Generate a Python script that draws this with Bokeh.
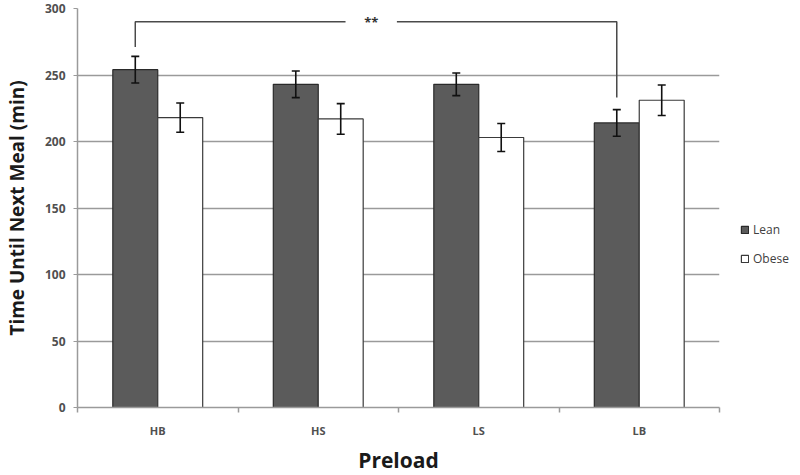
from bokeh.plotting import figure
from bokeh.models import (ColumnDataSource, FixedTicker, Whisker, TeeHead, Legend, LegendItem)
from bokeh.core.properties import value
from bokeh.embed import file_html
from bokeh.resources import INLINE
import numpy as np

categories = ["HB", "HS", "LS", "LB"]
lean = [254, 243, 243, 214]
lean_err = [10, 10, 8.5, 10]
obese = [218, 217, 203, 231]
obese_err = [11, 11.5, 10.5, 11.5]
y_ticks = [0, 50, 100, 150, 200, 250, 300]
series_names = ["Lean", "Obese"]

# significance bracket (HB lean vs LB lean)
sig_label = "**"
sig_y = 290
sig_left_end = 271
sig_right_end = 233
sig_gap = (1.67, 1.99)
sig_text_x = 1.83

FONT = "Open Sans"
bar_w = 0.28
centers = np.arange(len(categories)) + 0.5

p = figure(frame_width=642, frame_height=399, x_range=(0, len(categories)), y_range=(0, 300),
           output_backend="svg", toolbar_location=None,
           min_border_left=69, min_border_top=8, min_border_bottom=54, min_border_right=72,
           outline_line_color=None, background_fill_color="white", border_fill_color="white")

lean_src = ColumnDataSource(dict(x=centers - bar_w / 2, top=lean,
                                 upper=np.array(lean) + np.array(lean_err),
                                 lower=np.array(lean) - np.array(lean_err)))
obese_src = ColumnDataSource(dict(x=centers + bar_w / 2, top=obese,
                                  upper=np.array(obese) + np.array(obese_err),
                                  lower=np.array(obese) - np.array(obese_err)))

r_lean = p.vbar(x="x", top="top", width=bar_w, bottom=0, source=lean_src,
                fill_color="#5b5b5b", line_color="#2a2a2a", line_width=1.2)
r_obese = p.vbar(x="x", top="top", width=bar_w, bottom=0, source=obese_src,
                 fill_color="white", line_color="#3a3a3a", line_width=1.2)

for src in (lean_src, obese_src):
    w = Whisker(source=src, base="x", upper="upper", lower="lower", level="overlay",
                line_color="#111111", line_width=1.6,
                upper_head=TeeHead(size=8, line_color="#111111", line_width=1.6),
                lower_head=TeeHead(size=8, line_color="#111111", line_width=1.6))
    p.add_layout(w)

# bracket
xl = centers[0] - bar_w / 2
xr = centers[3] - bar_w / 2
p.multi_line(xs=[[xl, xl, sig_gap[0]], [sig_gap[1], xr, xr]],
             ys=[[sig_left_end, sig_y, sig_y], [sig_y, sig_y, sig_right_end]],
             line_color="#4a4a4a", line_width=1.5)
p.text(x=[sig_text_x], y=[sig_y], text=[sig_label], text_align="center", text_baseline="middle",
       text_font=value(FONT), text_font_size="13px", text_font_style="bold", text_color="#333333")

# axes
p.yaxis.ticker = FixedTicker(ticks=y_ticks)
p.ygrid.ticker = FixedTicker(ticks=y_ticks)
p.xgrid.visible = False
p.ygrid.grid_line_color = "#9a9a9a"
p.ygrid.grid_line_width = 1.3

p.xaxis.ticker = FixedTicker(ticks=list(centers), minor_ticks=list(range(len(categories) + 1)))
p.xaxis.major_label_overrides = {float(c): lab for c, lab in zip(centers, categories)}

for ax in (p.xaxis[0], p.yaxis[0]):
    ax.axis_line_color = "#9a9a9a"
    ax.axis_line_width = 1.5
    ax.major_label_text_font = FONT
    ax.major_label_text_color = "#505050"
    ax.axis_label_text_font = FONT
    ax.axis_label_text_font_style = "bold"
    ax.axis_label_text_color = "#1a1a1a"

p.yaxis.major_tick_line_color = "#9a9a9a"
p.yaxis.major_tick_out = 4
p.yaxis.major_tick_in = 0
p.yaxis.minor_tick_line_color = None
p.yaxis.major_label_text_font_size = "12px"
p.yaxis.major_label_text_font_style = "bold"
p.yaxis.major_label_standoff = 8
p.yaxis.axis_label = "Time Until Next Meal (min)"
p.yaxis.axis_label_text_font_size = "19px"
p.yaxis.axis_label_standoff = 12

p.xaxis.major_tick_out = 0
p.xaxis.major_tick_in = 0
p.xaxis.minor_tick_out = 5
p.xaxis.minor_tick_in = 0
p.xaxis.minor_tick_line_color = "#9a9a9a"
p.xaxis.minor_tick_line_width = 1.5
p.xaxis.major_label_text_font_size = "11px"
p.xaxis.major_label_text_font_style = "bold"
p.xaxis.major_label_standoff = 10
p.xaxis.axis_label = "Preload"
p.xaxis.axis_label_text_font_size = "21px"
p.xaxis.axis_label_standoff = 5

legend = Legend(items=[LegendItem(label=series_names[0], renderers=[r_lean]),
                       LegendItem(label=series_names[1], renderers=[r_obese])],
                location=(21, 140), padding=0, margin=0, spacing=12,
                glyph_width=9, glyph_height=9, label_height=10, label_standoff=4,
                label_text_font=FONT, label_text_font_size="12px", label_text_color="#404040",
                border_line_color=None, background_fill_alpha=0)
p.add_layout(legend, "right")

open("out.html", "w").write(file_html(p, INLINE))
